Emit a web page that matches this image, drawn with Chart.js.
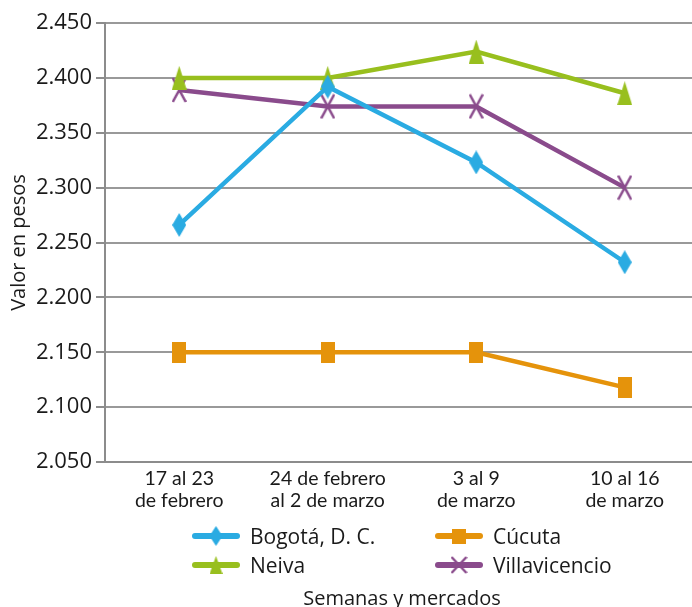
<!DOCTYPE html>
<html>
<head>
<meta charset="utf-8">
<script src="https://cdn.jsdelivr.net/npm/chart.js@4"></script>
<style>
  html, body { margin: 0; padding: 0; background: #fff; overflow: hidden; }
  #wrap { position: relative; width: 734px; height: 607px; }
  #leyenda { position: absolute; left: 0; top: 522px; font-family: "Open Sans", sans-serif; font-size: 21px; color: #1a1a1a; }
  .item { position: absolute; display: flex; align-items: center; white-space: nowrap; height: 28px; }
  .item canvas { margin-right: 10px; }
</style>
</head>
<body>
<div id="wrap">
  <canvas id="grafico" width="734" height="607"></canvas>
  <div id="leyenda"></div>
</div>
<script>
// Datos
const semanas = [['17 al 23', 'de febrero'], ['24 de febrero', 'al 2 de marzo'], ['3 al 9', 'de marzo'], ['10 al 16', 'de marzo']];
const bogota = [2266, 2392, 2323, 2232];
const cucuta = [2150, 2150, 2150, 2118];
const neiva = [2400, 2400, 2424, 2386];
const villavicencio = [2389, 2374, 2374, 2300];
const ejeY = { min: 2050, max: 2450, paso: 50 };

const fuente = '"Open Sans", sans-serif';

// Marcadores alargados como en la imagen original
function crearMarcador(forma, color, w, h) {
    const c = document.createElement('canvas');
    c.width = w; c.height = h;
    const ctx = c.getContext('2d');
    ctx.fillStyle = color;
    ctx.strokeStyle = color;
    ctx.beginPath();
    if (forma === 'diamante') {
        ctx.moveTo(w / 2, 0); ctx.lineTo(w, h / 2); ctx.lineTo(w / 2, h); ctx.lineTo(0, h / 2);
        ctx.closePath(); ctx.fill();
    } else if (forma === 'cuadro') {
        ctx.rect(0, 0, w, h); ctx.fill();
    } else if (forma === 'triangulo') {
        ctx.moveTo(w / 2, 0); ctx.lineTo(w, h); ctx.lineTo(0, h);
        ctx.closePath(); ctx.fill();
    } else {
        ctx.lineWidth = 2.5;
        ctx.moveTo(1, 1); ctx.lineTo(w - 1, h - 1);
        ctx.moveTo(w - 1, 1); ctx.lineTo(1, h - 1);
        ctx.stroke();
    }
    return c;
}

const series = [
    { nombre: 'Bogotá, D. C.', datos: bogota, color: '#2AABE2', forma: 'diamante', w: 14, h: 24, lw: 13, lh: 20, col: 0, fila: 0 },
    { nombre: 'Cúcuta', datos: cucuta, color: '#E5930B', forma: 'cuadro', w: 14, h: 21, lw: 14, lh: 15, col: 1, fila: 0 },
    { nombre: 'Neiva', datos: neiva, color: '#98BF1E', forma: 'triangulo', w: 15, h: 24, lw: 13, lh: 18, col: 0, fila: 1 },
    { nombre: 'Villavicencio', datos: villavicencio, color: '#8A4B8C', forma: 'cruz', w: 15, h: 26, lw: 17, lh: 18, col: 1, fila: 1 }
];

// Leyenda en HTML con dos columnas alineadas
const leyenda = document.getElementById('leyenda');
series.forEach(s => {
    const div = document.createElement('div');
    div.className = 'item';
    div.style.left = (s.col === 0 ? 192 : 435) + 'px';
    div.style.top = (s.fila * 29) + 'px';
    const icono = document.createElement('canvas');
    icono.width = 48; icono.height = 28;
    const ctx = icono.getContext('2d');
    ctx.strokeStyle = s.color;
    ctx.lineWidth = 6;
    ctx.lineCap = 'round';
    ctx.beginPath(); ctx.moveTo(3, 14); ctx.lineTo(45, 14); ctx.stroke();
    const m = crearMarcador(s.forma, s.color, s.lw, s.lh);
    ctx.drawImage(m, 24 - s.lw / 2, 14 - s.lh / 2);
    div.appendChild(icono);
    const txt = document.createElement('span');
    txt.textContent = s.nombre;
    div.appendChild(txt);
    leyenda.appendChild(div);
});

new Chart(document.getElementById('grafico'), {
    type: 'line',
    data: {
        labels: semanas,
        datasets: series.map(s => ({
            label: s.nombre,
            data: s.datos,
            borderColor: s.color,
            backgroundColor: s.color,
            borderWidth: 4.5,
            pointStyle: crearMarcador(s.forma, s.color, s.w, s.h),
            tension: 0
        }))
    },
    options: {
        responsive: false,
        animation: false,
        layout: { padding: { top: 23, right: 35, left: 7, bottom: 0 } },
        plugins: {
            legend: { display: false },
            tooltip: { enabled: false },
            title: {
                display: true,
                fullSize: false,
                position: 'bottom',
                text: 'Semanas y mercados',
                color: '#1a1a1a',
                font: { family: fuente, size: 20, weight: 'normal', lineHeight: 1.2 },
                padding: { top: 0, bottom: -4 }
            }
        },
        scales: {
            x: {
                offset: true,
                grid: { drawOnChartArea: false, drawTicks: false },
                border: { color: '#8c8c8c', width: 2 },
                ticks: { color: '#1a1a1a', padding: 6, maxRotation: 0, font: { family: 'Lato, sans-serif', size: 19.5, lineHeight: 1.13 } },
                afterFit: s => { s.height = 125; }
            },
            y: {
                min: ejeY.min,
                max: ejeY.max,
                grid: { color: '#999999', lineWidth: 2, tickLength: 9, tickColor: '#8c8c8c' },
                border: { color: '#8c8c8c', width: 2 },
                ticks: {
                    stepSize: ejeY.paso,
                    color: '#1a1a1a',
                    padding: 4,
                    font: { family: fuente, size: 22 },
                    callback: v => v.toLocaleString('de-DE')
                },
                title: {
                    display: true,
                    text: 'Valor en pesos',
                    color: '#1a1a1a',
                    font: { family: fuente, size: 20 },
                    padding: { top: 0, bottom: 2 }
                },
                afterFit: s => { s.width = 98; }
            }
        }
    }
});
</script>
</body>
</html>
